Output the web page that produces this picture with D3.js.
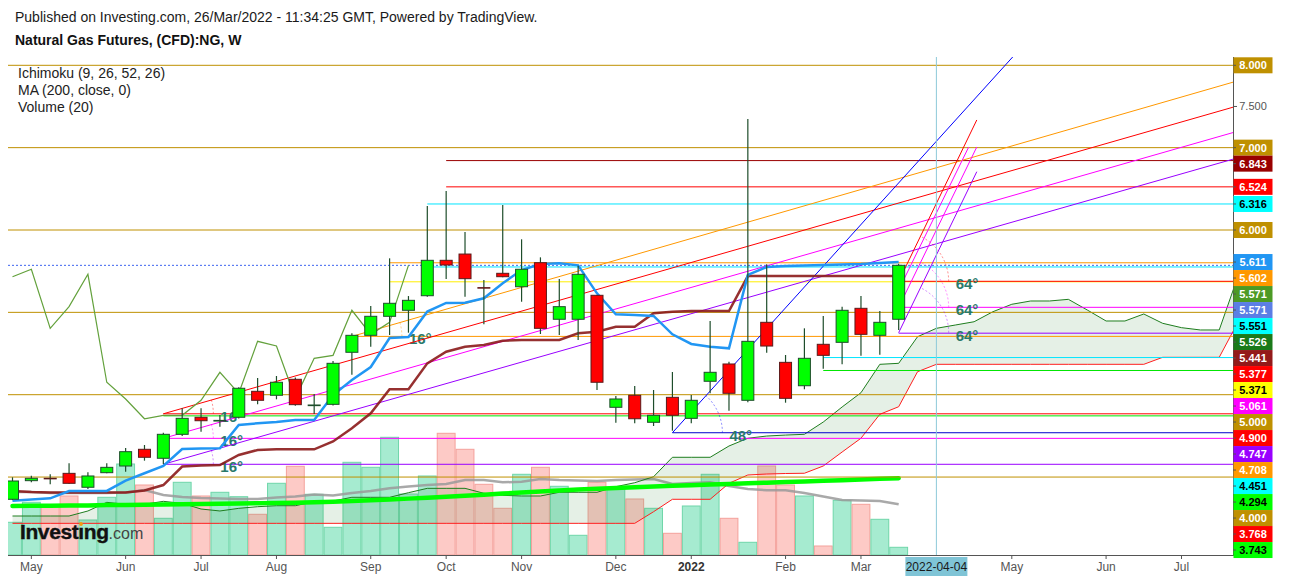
<!DOCTYPE html>
<html>
<head>
<meta charset="utf-8">
<title>Natural Gas Futures, (CFD):NG, W</title>
<script src="https://d3js.org/d3.v7.min.js"></script>
<style>
  body { margin: 0; background: #fff; }
  #chart svg { display: block; font-family: "Liberation Sans", Arial, sans-serif; }
</style>
</head>
<body>
<div id="chart"></div>
<script>
// Weekly bars, the first one opens on Monday 2021-04-26
const firstWeek = '2021-04-26';

const open  = [2.730,2.956,2.985,3.045,2.876,3.053,3.134,3.337,3.228,3.519,
               3.726,3.680,3.726,4.041,3.993,4.187,3.867,3.883,4.515,4.721,
               4.952,5.025,5.202,5.632,5.708,5.300,5.474,5.311,5.603,4.916,
               4.916,5.207,3.847,3.993,3.665,3.968,3.713,4.163,4.373,3.932,
               4.879,4.393,4.109,4.612,4.636,5.049,4.721,4.916];
const high  = [2.997,3.016,3.033,3.167,3.058,3.167,3.353,3.389,3.539,3.835,
               3.835,3.754,4.090,4.203,4.227,4.210,4.009,4.409,4.746,5.077,
               5.656,5.198,6.291,6.474,5.976,5.393,6.304,5.887,5.668,5.405,
               5.567,5.210,3.984,4.106,4.057,4.276,3.996,4.895,4.400,7.348,
               5.583,4.482,4.806,4.956,5.069,5.198,5.016,5.590];
const low   = [2.720,2.936,2.912,2.920,2.855,3.045,3.065,3.199,3.158,3.500,
               3.551,3.611,3.710,3.883,3.944,3.867,3.766,3.870,4.243,4.583,
               4.725,4.753,5.190,5.405,5.190,4.855,5.425,5.129,4.737,4.725,
               4.664,4.057,3.660,3.653,3.620,3.563,3.653,4.017,3.806,3.908,
               4.510,3.903,4.066,4.316,4.369,4.473,4.485,4.786];
const close = [2.952,2.985,2.978,2.924,3.013,3.118,3.308,3.240,3.519,3.713,
               3.684,3.688,4.078,3.932,4.151,3.879,3.875,4.381,4.721,4.952,
               5.110,5.146,5.632,5.575,5.409,5.296,5.433,5.523,4.806,5.069,
               5.462,4.151,3.948,3.708,3.750,3.750,3.932,4.272,4.017,4.648,
               4.591,3.956,4.442,4.478,5.025,4.733,4.879,5.571];

// volume in thousands of contracts, and its 20 week average
const volume   = [32.7,52.7,50,59,35,57.7,91,70,36.7,72.7,
                  59,62.7,58.3,40.7,71.7,88.7,60.7,27.7,92.7,87.7,
                  117.7,61,79,121.7,105.7,70.7,46.7,80.7,87.7,68.7,
                  19.7,72.7,66.7,56,46.7,21.7,49,80.7,36.7,12.7,
                  89,70,59,9,54.7,50.7,35.7,7.7];
const volumeMA = [63,63,62,62,62,62,62.5,65,60,58,
                  57,56.5,56,56,57.5,58.5,60.5,59.5,62,64,
                  66.7,68.5,70,71,75,75,72.7,73.3,76,75,
                  74.5,74,75,75.5,76,71,72,72.7,69,66,
                  64.7,64.7,62,58.5,55,54.5,54,50.7];

// Ichimoku lines and the 200 MA
const tenkan = [2.713,2.727,2.742,2.831,2.831,2.831,2.956,3.046,3.135,3.341,
                3.347,3.349,3.632,3.653,3.668,3.693,3.693,3.996,4.178,4.336,
                4.689,4.701,5.010,5.114,5.117,5.171,5.353,5.514,5.587,5.596,
                5.571,5.231,4.976,4.968,4.956,4.733,4.616,4.583,4.563,5.454,
                5.551,5.563,5.569,5.575,5.581,5.587,5.599,5.611];
const kijun  = [2.830,2.818,2.812,2.812,2.812,2.812,2.812,2.837,2.903,3.128,
                3.140,3.146,3.268,3.329,3.337,3.337,3.337,3.432,3.592,3.774,
                4.066,4.066,4.381,4.522,4.583,4.603,4.656,4.664,4.664,4.664,
                4.746,4.765,4.826,4.826,4.988,5.008,5.016,5.016,5.016,5.441,
                5.441,5.441,5.441,5.441,5.441,5.441,5.441,5.441];
const ma200  = [2.648,2.650,2.652,2.654,2.656,2.660,2.662,2.664,2.667,2.669,
                2.672,2.675,2.678,2.681,2.685,2.689,2.693,2.701,2.709,2.718,
                2.727,2.738,2.749,2.760,2.773,2.786,2.799,2.812,2.824,2.837,
                2.849,2.858,2.867,2.875,2.884,2.893,2.901,2.910,2.917,2.925,
                2.932,2.939,2.946,2.954,2.962,2.970,2.978,2.985];
// cloud spans, already plotted 26 weeks ahead (66 weeks from firstWeek)
const spanA = [2.527,2.527,2.527,2.527,2.588,2.693,2.669,2.669,2.705,2.681,
               2.612,2.588,2.620,2.640,2.652,2.652,2.701,2.709,2.754,2.754,
               2.754,2.810,2.863,2.863,2.863,2.803,2.778,2.770,2.770,2.815,
               2.815,2.815,2.883,2.931,3.004,3.240,3.240,3.240,3.377,3.471,
               3.498,3.510,3.519,3.668,3.851,4.024,4.369,4.381,4.704,4.806,
               4.846,4.886,5.008,5.098,5.138,5.138,5.158,5.029,4.895,4.895,
               4.980,4.867,4.814,4.786,4.786,5.441];
const spanB = [2.438,2.438,2.438,2.438,2.438,2.438,2.438,2.438,2.438,2.438,
               2.438,2.438,2.438,2.438,2.438,2.438,2.438,2.438,2.438,2.438,
               2.438,2.438,2.438,2.438,2.438,2.438,2.438,2.438,2.438,2.438,
               2.438,2.438,2.438,2.438,2.579,2.730,2.730,2.730,2.924,3.025,
               3.037,3.043,3.046,3.134,3.304,3.471,3.762,3.854,4.279,4.369,
               4.369,4.369,4.369,4.369,4.369,4.369,4.369,4.369,4.369,4.369,
               4.369,4.454,4.454,4.454,4.454,4.883];

// Time axis
const monthTicks  = ['2021-05-03','2021-06-07','2021-07-05','2021-08-02','2021-09-06','2021-10-04',
                     '2021-11-01','2021-12-06','2022-01-03','2022-02-07','2022-03-07',
                     '2022-05-02','2022-06-06','2022-07-04'];
const monthLabels = ['May','Jun','Jul','Aug','Sep','Oct','Nov','Dec','2022','Feb','Mar','May','Jun','Jul'];
const markerDate  = '2022-04-04';

// Horizontal levels drawn by hand (null start = whole width)
const levelValues = [8, 7, 6.843, 6.524, 6.316, 6, 5.602, 5.551, 5.371, 5.377, 5.061, 5,
                     4.747, 4.708, 4.451, 4.294, 4, 3.768, 3.743, 3.538, 3.47, 3.155, 3];
const levelColors = ['#bf9000','#bf9000','#990000','#ff0000','#00e5ff','#bf9000','#ff9800','#00e5ff',
                     '#ffee00','#ff0000','#ff00ff','#bf9000','#9900ff','#ff9800','#00e5ff','#00e600',
                     '#bf9000','#ff0000','#00e600','#0000cc','#ff00ff','#9900ff','#bf9000'];
const levelStarts = [null, null, '2021-10-04','2021-10-04','2021-09-27', null,'2021-09-13','2021-09-27',
                     '2021-09-13','2022-03-21','2022-03-21', null,'2022-03-21','2021-08-30','2022-02-21',
                     '2022-02-21', null,'2021-06-21','2021-06-21','2021-12-27','2021-06-21','2021-06-21', null];
const lastPrice = 5.571;

// Trend angles: anchor, second point, colour, ray or segment, label
const angleStarts = [['2021-08-30',4.708],['2021-06-21',3.768],['2021-06-21',3.47],['2021-06-21',3.155],
                     ['2021-12-27',3.538],['2022-03-21',5.377],['2022-03-21',5.061],['2022-03-21',4.753]];
const angleEnds   = [['2022-07-23',7.794],['2022-07-23',7.49],['2022-07-23',7.182],['2022-07-23',6.859],
                     ['2022-05-02',8.089],['2022-04-19',7.336],['2022-04-19',7.008],['2022-04-19',6.708]];
const angleColors = ['#ff9800','#ff0000','#ff00ff','#9900ff','#0000ff','#ff0000','#ff00ff','#9900ff'];
const angleIsRay  = [true, true, true, true, true, false, false, false];
const angleLabels = ['16°','16°','16°','16°','48°','64°','64°','64°'];
const extraFan    = [['2022-03-21',5.271],['2022-04-16',7.008]];

// Price scale labels
const labelValues = [8.000,7.000,6.843,6.524,6.316,6.000,5.611,5.602,5.571,5.571,5.551,5.526,5.441,
                     5.377,5.371,5.061,5.000,4.900,4.747,4.708,4.451,4.294,4.000,3.768,3.743];
const labelBg     = ['#bf9000','#bf9000','#990000','#ff0000','#00ffff','#bf9000','#2196f3','#ff9800',
                     '#4c9a25','#5b7ee5','#00ffff','#1a7a1a','#931a1a','#ff0000','#ffff00','#ff00ff',
                     '#bf9000','#ff0000','#9900ff','#ff9800','#00ffff','#00ff00','#bf9000','#ff0000','#00ff00'];
const labelFg     = ['#fff','#fff','#fff','#fff','#000','#fff','#fff','#fff','#fff','#fff','#000','#fff',
                     '#fff','#fff','#000','#fff','#fff','#fff','#fff','#fff','#000','#000','#fff','#fff','#000'];

class NatGasChart {
  constructor(_config) {
    this.config = {
      parentElement: _config.parentElement,
      width: 1299,
      height: 580,
      plot: { left: 8, right: 1233, top: 57, bottom: 555 }
    };
    this.initVis();
  }

  initVis() {
    let vis = this;
    const p = vis.config.plot;
    vis.parse = d3.utcParse('%Y-%m-%d');

    vis.start = vis.parse(firstWeek);
    vis.weeks = d3.utcMonday.range(vis.start, d3.utcMonday.offset(vis.start, close.length));
    vis.cloudWeeks = d3.utcMonday.range(vis.start, d3.utcMonday.offset(vis.start, spanA.length));

    // one week = 18.855px, first bar centred at 12.5
    vis.xScale = d3.scaleUtc()
      .domain([vis.start, vis.parse('2022-07-04')])
      .range([12.5, 1181.5]);

    vis.yScale = d3.scaleLinear()
      .domain([2, 8])
      .range([559.4, 65.3]);

    vis.volScale = d3.scaleLinear()
      .domain([0, 150])
      .range([p.bottom, p.bottom - 150]);

    vis.barStep = vis.xScale(vis.weeks[1]) - vis.xScale(vis.weeks[0]);

    vis.svg = d3.select(vis.config.parentElement).append('svg')
      .attr('width', vis.config.width)
      .attr('height', vis.config.height);

    vis.svg.append('rect')
      .attr('width', vis.config.width)
      .attr('height', vis.config.height)
      .attr('fill', '#fff');

    vis.svg.append('clipPath')
      .attr('id', 'plot-clip')
      .append('rect')
      .attr('x', p.left)
      .attr('y', p.top)
      .attr('width', p.right - p.left)
      .attr('height', p.bottom - p.top);

    vis.chartArea = vis.svg.append('g').attr('clip-path', 'url(#plot-clip)');
    vis.renderVis();
  }

  renderVis() {
    let vis = this;
    const p = vis.config.plot;
    const x = vis.xScale, y = vis.yScale;
    const px = d => x(vis.parse(d));

    // Volume bars
    vis.chartArea.append('g').selectAll('rect')
      .data(volume)
      .join('rect')
      .attr('x', (d, i) => x(vis.weeks[i]) - vis.barStep / 2 + 0.5)
      .attr('y', d => vis.volScale(d))
      .attr('width', vis.barStep - 1)
      .attr('height', d => p.bottom - vis.volScale(d))
      .attr('fill', (d, i) => close[i] >= open[i] ? '#a6ebd0' : '#fdcac6')
      .attr('stroke', (d, i) => close[i] >= open[i] ? '#6fd6a9' : '#f4a19b')
      .attr('stroke-width', 1);

    vis.chartArea.append('path')
      .datum(volumeMA)
      .attr('fill', 'none')
      .attr('stroke', '#9a9a9a')
      .attr('stroke-width', 2.5)
      .attr('opacity', 0.85)
      .attr('d', d3.line().x((d, i) => x(vis.weeks[i])).y(d => vis.volScale(d)));

    // Ichimoku cloud
    const cloud = d3.range(spanA.length);
    vis.chartArea.append('path')
      .datum(cloud)
      .attr('fill', 'rgba(56,142,60,0.13)')
      .attr('d', d3.area()
        .x(i => x(vis.cloudWeeks[i]))
        .y0(i => y(spanB[i]))
        .y1(i => y(spanA[i])));

    const lineOf = (arr, dates) => d3.line().x((d, i) => x(dates[i])).y(d => y(d))(arr);

    vis.chartArea.append('path')
      .attr('fill', 'none').attr('stroke', '#1e7d1e').attr('stroke-width', 1)
      .attr('d', lineOf(spanA, vis.cloudWeeks));
    vis.chartArea.append('path')
      .attr('fill', 'none').attr('stroke', '#ff1f1f').attr('stroke-width', 1)
      .attr('d', lineOf(spanB, vis.cloudWeeks));

    // 200 week MA
    vis.chartArea.append('path')
      .attr('fill', 'none').attr('stroke', '#00ff00').attr('stroke-width', 4.5)
      .attr('stroke-linecap', 'round')
      .attr('d', lineOf(ma200, vis.weeks));

    // Hand drawn horizontal levels
    vis.chartArea.append('g').selectAll('line')
      .data(levelValues)
      .join('line')
      .attr('x1', (d, i) => levelStarts[i] ? px(levelStarts[i]) : p.left)
      .attr('x2', p.right)
      .attr('y1', d => y(d))
      .attr('y2', d => y(d))
      .attr('stroke', (d, i) => levelColors[i])
      .attr('stroke-width', 1);

    // Last price line
    vis.chartArea.append('line')
      .attr('x1', p.left).attr('x2', p.right)
      .attr('y1', y(lastPrice)).attr('y2', y(lastPrice))
      .attr('stroke', '#3d63f0')
      .attr('stroke-dasharray', '2,2');

    // Trend angles
    const angles = vis.chartArea.append('g');
    angleStarts.forEach((a, i) => {
      const ax = px(a[0]), ay = y(a[1]);
      const bx = px(angleEnds[i][0]), by = y(angleEnds[i][1]);
      const t = angleIsRay[i] ? 20 : 1;
      angles.append('line')
        .attr('x1', ax).attr('y1', ay)
        .attr('x2', ax + (bx - ax) * t).attr('y2', ay + (by - ay) * t)
        .attr('stroke', angleColors[i])
        .attr('stroke-width', 1);

      // dotted arc between the level and the line
      const r = 50;
      const theta = Math.atan2(ay - by, bx - ax);
      angles.append('path')
        .attr('d', `M${ax + r},${ay} A${r},${r} 0 0 0 ${ax + r * Math.cos(theta)},${ay - r * Math.sin(theta)}`)
        .attr('fill', 'none')
        .attr('stroke', angleColors[i])
        .attr('stroke-opacity', 0.45)
        .attr('stroke-dasharray', '2,2');

      angles.append('text')
        .attr('x', ax + 57)
        .attr('y', ay + 8)
        .attr('font-size', 15)
        .attr('font-weight', 'bold')
        .attr('fill', '#2a7a6b')
        .text(angleLabels[i]);
    });

    angles.append('line')
      .attr('x1', px(extraFan[0][0])).attr('y1', y(extraFan[0][1]))
      .attr('x2', px(extraFan[1][0])).attr('y2', y(extraFan[1][1]))
      .attr('stroke', '#ff00ff');

    // Date marker
    vis.chartArea.append('line')
      .attr('x1', px(markerDate)).attr('x2', px(markerDate))
      .attr('y1', p.top).attr('y2', p.bottom)
      .attr('stroke', '#8cc9d9');

    // Ichimoku base / conversion / lagging lines
    vis.chartArea.append('path')
      .attr('fill', 'none').attr('stroke', '#8b1a1a').attr('stroke-width', 2.5)
      .attr('stroke-opacity', 0.9)
      .attr('d', lineOf(kijun, vis.weeks));
    vis.chartArea.append('path')
      .attr('fill', 'none').attr('stroke', '#2196f3').attr('stroke-width', 2.5)
      .attr('d', lineOf(tenkan, vis.weeks));

    const lagging = close.slice(26);
    vis.chartArea.append('path')
      .attr('fill', 'none').attr('stroke', '#63a13c').attr('stroke-width', 1.2)
      .attr('d', lineOf(lagging, vis.weeks));

    // Candles
    const bodyW = 12;
    const candles = vis.chartArea.append('g').selectAll('g')
      .data(d3.range(close.length))
      .join('g');

    candles.append('line')
      .attr('x1', i => x(vis.weeks[i])).attr('x2', i => x(vis.weeks[i]))
      .attr('y1', i => y(high[i])).attr('y2', i => y(low[i]))
      .attr('stroke', '#1e4d2b')
      .attr('stroke-width', 1.2);

    candles.append('rect')
      .attr('x', i => x(vis.weeks[i]) - bodyW / 2)
      .attr('y', i => y(Math.max(open[i], close[i])))
      .attr('width', bodyW)
      .attr('height', i => Math.max(0.5, Math.abs(y(open[i]) - y(close[i]))))
      .attr('fill', i => close[i] >= open[i] ? '#00ff00' : '#ff0000')
      .attr('stroke', i => close[i] >= open[i] ? '#1e4d2b' : '#5a1a1a')
      .attr('stroke-width', 1);

    // Investing.com logo
    const logo = vis.svg.append('text')
      .attr('x', 20).attr('y', 539);
    logo.append('tspan')
      .attr('font-size', 21).attr('font-weight', 'bold').attr('fill', '#111')
      .attr('letter-spacing', -0.4)
      .attr('stroke', '#111').attr('stroke-width', 0.4)
      .text('Invest\u0131ng');
    logo.append('tspan')
      .attr('font-size', 16).attr('fill', '#444')
      .text('.com');
    const dotBox = logo.node().getExtentOfChar(6);
    vis.svg.append('circle')
      .attr('cx', dotBox.x + dotBox.width / 2)
      .attr('cy', dotBox.y + 4)
      .attr('r', 1.9)
      .attr('fill', '#f39c12');

    // Bottom time axis
    vis.svg.append('line')
      .attr('x1', p.left).attr('x2', p.right)
      .attr('y1', p.bottom + 0.5).attr('y2', p.bottom + 0.5)
      .attr('stroke', '#555');

    const ticks = vis.svg.append('g').selectAll('g')
      .data(monthTicks)
      .join('g')
      .attr('transform', d => `translate(${px(d)},${p.bottom})`);
    ticks.append('line').attr('y1', 0).attr('y2', 4).attr('stroke', '#555');
    ticks.append('text')
      .attr('y', 15.5)
      .attr('text-anchor', 'middle')
      .attr('font-size', 12)
      .attr('font-weight', (d, i) => monthLabels[i] === '2022' ? 'bold' : 'normal')
      .attr('fill', (d, i) => monthLabels[i] === '2022' ? '#333' : '#555')
      .text((d, i) => monthLabels[i]);

    const mx = px(markerDate);
    vis.svg.append('rect')
      .attr('x', mx - 31).attr('y', p.bottom + 2)
      .attr('width', 62).attr('height', 19)
      .attr('fill', '#7fc4d6');
    vis.svg.append('text')
      .attr('x', mx).attr('y', p.bottom + 16)
      .attr('text-anchor', 'middle')
      .attr('font-size', 12)
      .attr('fill', '#1a1a1a')
      .text(markerDate);

    // Right price scale
    vis.svg.append('line')
      .attr('x1', p.right + 0.5).attr('x2', p.right + 0.5)
      .attr('y1', p.top).attr('y2', p.bottom + 1)
      .attr('stroke', '#555');

    // stack labels downward so they do not overlap
    const order = d3.range(labelValues.length)
      .sort((a, b) => labelValues[b] - labelValues[a] || a - b);
    const labelY = [];
    let prev = -Infinity;
    order.forEach(i => {
      let ly = y(labelValues[i]);
      if (ly < prev + 16) ly = prev + 16;
      labelY[i] = ly;
      prev = ly;
    });

    const axisTicks = y.ticks(12)
      .filter(t => y(t) > p.top && y(t) < p.bottom && !labelY.some(ly => Math.abs(ly - y(t)) < 16));
    const axisG = vis.svg.append('g').selectAll('g')
      .data(axisTicks)
      .join('g')
      .attr('transform', d => `translate(${p.right},${y(d)})`);
    axisG.append('line').attr('x1', 0).attr('x2', 4).attr('stroke', '#555');
    axisG.append('text')
      .attr('x', 20).attr('y', 4)
      .attr('text-anchor', 'middle')
      .attr('font-size', 11)
      .attr('fill', '#555')
      .text(d => d3.format('.3f')(d));

    const labels = vis.svg.append('g').selectAll('g')
      .data(labelValues)
      .join('g')
      .attr('transform', (d, i) => `translate(${p.right},${labelY[i]})`);
    labels.append('rect')
      .attr('x', 0.5).attr('y', -8)
      .attr('width', 39).attr('height', 16)
      .attr('fill', (d, i) => labelBg[i]);
    labels.append('line').attr('x1', 0).attr('x2', 3).attr('stroke', '#555');
    labels.append('text')
      .attr('x', 20).attr('y', 4)
      .attr('text-anchor', 'middle')
      .attr('font-size', 11)
      .attr('font-weight', 'bold')
      .attr('fill', (d, i) => labelFg[i])
      .text(d => d3.format('.3f')(d));

    // Header and legend
    vis.svg.append('text')
      .attr('x', 15).attr('y', 22)
      .attr('font-size', 14).attr('fill', '#1a1a1a')
      .text('Published on Investing.com, 26/Mar/2022 - 11:34:25 GMT, Powered by TradingView.');
    vis.svg.append('text')
      .attr('x', 15).attr('y', 45)
      .attr('font-size', 14).attr('font-weight', 'bold').attr('fill', '#111')
      .text('Natural Gas Futures, (CFD):NG, W');

    vis.svg.append('g').selectAll('text')
      .data(['Ichimoku (9, 26, 52, 26)', 'MA (200, close, 0)', 'Volume (20)'])
      .join('text')
      .attr('x', 18)
      .attr('y', (d, i) => 78 + i * 17)
      .attr('font-size', 14)
      .attr('fill', '#222')
      .text(d => d);
  }
}

new NatGasChart({ parentElement: '#chart' });
</script>
</body>
</html>
